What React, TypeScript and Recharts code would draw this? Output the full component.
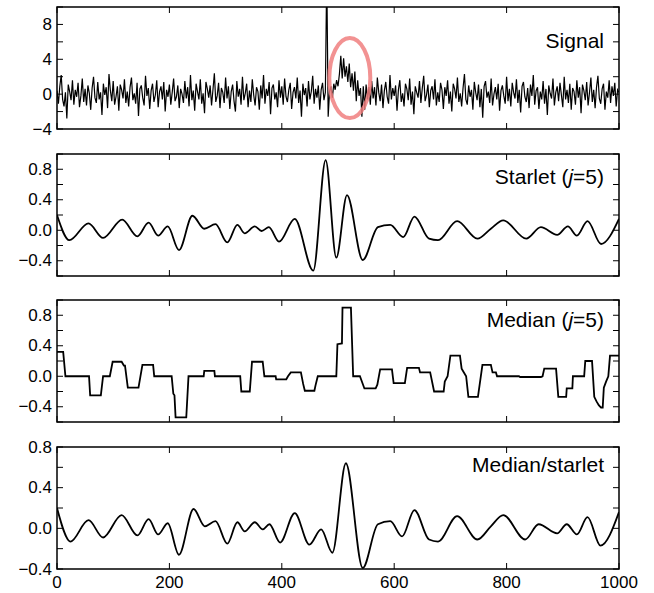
import React from 'react'
import { LineChart, Line, XAxis, YAxis, ReferenceArea, ReferenceDot } from 'recharts'

// raw signal, one sample every 2.5 units of x (0..1000)
const sigStep = 2.5
const sigValues = [
  0.4, -1.1, 0.9, 2.2, -0.6, -1.4, 0.2, -2.8, 1.1, 0.3, -0.7, 1.6, -1.2, 0.5, -0.3, 1.3,
  -1.5, -0.2, 1.8, -0.9, 0.6, -1.3, 1.0, 0.1, -1.8, 0.7, 2.0, -0.4, -1.0, 1.4, -0.6, 0.2,
  -2.4, 1.2, -0.1, 0.8, -1.6, 2.3, 0.4, -0.8, 1.5, -1.2, -0.3, 0.9, -1.9, 1.1, 0.5, -0.5,
  1.7, -1.0, 0.3, -1.4, 0.8, 1.9, -0.7, 0.1, -1.1, 1.3, -2.5, 0.6, 1.0, -0.4, -1.3, 2.1,
  -0.2, 0.7, -1.7, 0.4, 1.2, -0.9, -0.1, 1.6, -1.5, 0.3, 0.9, -0.6, 1.4, -2.0, 0.5, -0.3,
  1.1, -1.2, 0.2, 1.8, -0.8, -0.3, 1.0, -1.6, 0.6, 0.0, -1.0, 1.5, -0.5, 0.8, -1.4, 2.2,
  -0.7, 0.4, -1.9, 1.2, 0.3, -0.6, 1.7, -1.1, 0.1, -2.2, 1.4, 0.6, -0.4, 1.0, -1.3, 0.5,
  2.4, -0.9, -0.2, 1.3, -1.6, 0.7, 0.2, -1.0, 1.9, -0.5, 0.9, -1.7, 0.3, 1.1, -0.8, -2.0,
  1.5, -0.3, 0.6, -1.2, 2.0, -0.7, 0.1, 1.2, -1.5, 0.4, -0.9, 1.7, -0.1, -1.3, 0.8, 0.3,
  -1.8, 1.0, -0.5, 2.2, -1.1, 0.6, -0.2, 1.4, -2.3, 0.7, 1.1, -0.6, 0.2, -1.5, 1.6, -0.4,
  0.9, -1.2, 1.8, -0.3, -0.9, 0.5, 1.3, -1.7, 0.2, 0.8, -0.5, 1.9, -1.0, 0.4, -2.6, 1.2,
  -0.1, 0.7, -1.4, 1.5, -0.6, 0.3, 2.1, -1.1, 0.6, -0.4, 1.0, -1.8, 0.5, 1.3, -0.7, 0.2,
  14,
  -2.6, 0.3, 0.9, -0.4, 1.2, 0.5, 1.6, 0.9, 2.3, 4.4, 1.8, 4.1, 2.0, 3.2, 1.4, 3.5,
  0.8, 2.4, 0.4, 2.6, -0.8, 1.6, -0.2, 0.7, -2.6, 0.9, -1.8, 1.1, -0.6, 0.8, -1.2, 1.5,
  -0.5, 0.8, -1.3, 1.9, 0.2, -0.8, 1.1, -1.6, 0.4, 1.4, -0.3, -1.1, 2.2, -0.6, 0.7, -0.2,
  1.0, -1.9, 0.5, 1.6, -0.9, 0.1, -1.4, 1.2, 0.6, -0.7, 1.8, -1.2, 0.3, -2.3, 0.9, 0.2,
  -0.4, 1.5, -1.0, 0.7, 2.1, -0.8, -0.1, 1.1, -1.5, 0.4, 0.9, -0.6, 1.7, -1.3, 0.2, -0.9,
  1.3, 0.5, -1.7, 0.8, -0.2, 1.6, -1.1, 0.3, -2.0, 1.2, 0.6, -0.5, 1.9, -0.9, 0.1, -1.4,
  0.7, 2.3, -0.6, -1.2, 1.0, -0.3, 0.5, -1.8, 1.4, 0.2, -0.7, 1.1, -1.5, 0.6, -2.7, 0.9,
  1.5, -0.4, 0.3, -1.0, 1.8, -1.3, 0.0, 0.8, -0.6, 1.2, -1.9, 0.4, 1.0, -0.2, -1.1, 2.0,
  -0.8, 0.6, -1.4, 1.3, 0.2, -0.5, 1.7, -1.0, 0.5, -2.1, 0.9, 1.4, -0.3, -0.9, 0.7, -1.6,
  1.1, -0.2, 2.2, -1.2, 0.4, 0.8, -1.7, 0.3, -0.6, 1.5, -1.1, 0.6, -2.4, 1.0, 0.1, -0.5,
  1.8, -1.3, 0.2, 0.9, -0.8, 1.3, -0.1, -1.5, 2.0, -0.6, 0.5, -1.0, 1.2, -1.8, 0.7, 0.3,
  -1.2, 1.6, -0.4, 0.8, -2.2, 1.1, 0.4, -0.7, 1.4, -1.3, 0.2, 1.9, -0.9, 0.5, -1.6, 0.8,
  2.1, -0.5, -1.1, 0.6, 1.2, -1.8, 0.3, -0.4, 1.6, -1.0, 0.9, -0.2, 1.3, -1.4, 0.5, 0.2,
]

// starlet (j=5) extrema
const starletX = [0, 22, 56, 82, 116, 143, 163, 180, 197, 217, 241, 262, 282, 303, 321, 334, 352, 364, 377, 395, 423, 456, 478, 497, 516, 544, 571, 593, 616, 636, 662, 678, 712, 748, 772, 794, 835, 861, 890, 909, 925, 944, 968, 1000]
const starletY = [0.2, -0.13, 0.09, -0.1, 0.14, -0.08, 0.1, -0.07, 0.05, -0.26, 0.19, 0.02, 0.08, -0.16, 0.07, -0.04, 0.05, -0.01, 0.04, -0.15, 0.15, -0.53, 0.92, -0.36, 0.46, -0.39, 0.04, 0.07, -0.09, 0.18, -0.11, -0.13, 0.12, -0.11, 0.02, 0.13, -0.11, 0.04, -0.06, 0.05, -0.07, 0.12, -0.18, 0.15]

// median (j=5) step corners
const medianX = [0, 11, 15, 57, 59, 78, 82, 94, 99, 115, 119, 121, 126, 145, 152, 171, 173, 204, 207, 209, 211, 230, 234, 261, 262, 280, 281, 326, 328, 343, 347, 366, 369, 389, 390, 408, 411, 416, 434, 438, 441, 458, 460, 464, 497, 499, 507, 508, 523, 527, 539, 547, 567, 570, 575, 596, 599, 619, 623, 644, 646, 664, 671, 688, 690, 695, 700, 717, 720, 724, 728, 732, 749, 757, 772, 775, 781, 783, 822, 824, 861, 864, 867, 888, 892, 906, 907, 917, 918, 938, 940, 952, 956, 960, 964, 968, 971, 973, 977, 981, 984, 1000]
const medianY = [0.32, 0.32, 0, 0, -0.25, -0.25, 0, 0, 0.19, 0.19, 0.14, 0.14, -0.15, -0.15, 0.15, 0.15, 0, 0, -0.23, -0.25, -0.54, -0.54, 0, 0, 0.07, 0.07, 0, 0, -0.2, -0.2, 0.19, 0.19, 0, 0, -0.04, -0.04, 0, 0.05, 0.05, -0.1, -0.19, -0.19, -0.12, 0, 0, 0.42, 0.43, 0.9, 0.9, 0, 0, -0.16, -0.16, -0.11, 0.09, 0.09, -0.09, -0.09, 0.11, 0.11, 0.05, 0.05, -0.2, -0.2, -0.07, 0, 0.27, 0.27, 0.1, 0.05, 0, -0.27, -0.27, 0.15, 0.15, 0.05, 0.05, 0, 0, -0.01, -0.01, 0, 0.1, 0.1, -0.27, -0.27, -0.16, -0.16, 0, 0, 0.2, 0.2, -0.27, -0.33, -0.38, -0.41, -0.41, -0.15, -0.07, 0, 0.27, 0.27]

// median/starlet extrema
const msX = [0, 24, 56, 82, 115, 143, 163, 180, 197, 217, 243, 263, 282, 303, 321, 334, 352, 366, 378, 397, 423, 449, 470, 490, 514, 544, 571, 593, 614, 636, 662, 678, 712, 748, 772, 794, 833, 857, 890, 907, 925, 944, 967, 1000]
const msY = [0.2, -0.13, 0.08, -0.09, 0.13, -0.07, 0.09, -0.06, 0.05, -0.26, 0.19, 0.02, 0.07, -0.15, 0.06, -0.03, 0.06, -0.01, 0.04, -0.14, 0.15, -0.16, -0.01, -0.24, 0.64, -0.39, 0.04, 0.07, -0.08, 0.18, -0.11, -0.13, 0.12, -0.11, 0.02, 0.13, -0.11, 0.04, -0.05, 0.04, -0.06, 0.11, -0.17, 0.16]

const xTicks = [0, 200, 400, 600, 800, 1000]
const sigTicks = [-4, -2, 0, 2, 4, 6, 8, 10]
const sigLabels = [-4, 0, 4, 8]
const waveTicks = [-0.6, -0.4, -0.2, 0, 0.2, 0.4, 0.6, 0.8, 1.0]
const msTicks = [-0.4, -0.2, 0, 0.2, 0.4, 0.6, 0.8]
const waveLabels = [-0.4, 0, 0.4, 0.8]

// layout (px)
const W = 654
const PL = 57
const PR = 619
const PH = 122
const MT = 10
const TL = 6
const FONT = '"Liberation Sans", Arial, Helvetica, sans-serif'

const sigData = sigValues.map((v, i) => ({ x: i * sigStep, y: v }))
const starletData = starletX.map((x, i) => ({ x, y: starletY[i] }))
const medianData = medianX.map((x, i) => ({ x, y: medianY[i] }))
const msData = msX.map((x, i) => ({ x, y: msY[i] }))

const fmt = (v: number, digits: number) => {
  const s = Math.abs(v).toFixed(digits)
  return v < -1e-9 ? '\u2212' + s : s
}

function Panel({ top, data, domain, ticks, labels, digits, showX, type, strokeWidth, children }: any) {
  const bottom = showX ? 30 : 12
  const yTick = (p: any) => {
    const v = p.payload.value
    const y = p.y
    const show = labels.some((l: number) => Math.abs(l - v) < 1e-6)
    return (
      <g>
        <line x1={PL} x2={PL + TL} y1={y} y2={y} stroke="#000" strokeWidth={1} />
        <line x1={PR - TL} x2={PR} y1={y} y2={y} stroke="#000" strokeWidth={1} />
        {show && (
          <text x={PL - 5} y={y} textAnchor="end" dominantBaseline="central" fontSize={17} fontFamily={FONT} fill="#000">
            {fmt(v, digits)}
          </text>
        )}
      </g>
    )
  }
  const xTick = (p: any) => {
    const x = p.x
    return (
      <g>
        <line x1={x} x2={x} y1={MT} y2={MT + TL} stroke="#000" strokeWidth={1} />
        <line x1={x} x2={x} y1={MT + PH - TL} y2={MT + PH} stroke="#000" strokeWidth={1} />
        {showX && (
          <text x={x} y={MT + PH + 13} textAnchor="middle" dominantBaseline="central" fontSize={17} fontFamily={FONT} fill="#000">
            {p.payload.value}
          </text>
        )}
      </g>
    )
  }
  return (
    <div style={{ position: 'absolute', left: 0, top: top - MT }}>
      <LineChart width={W} height={MT + PH + bottom} data={data} margin={{ top: MT, right: W - PR, bottom: 0, left: 0 }}>
        <XAxis type="number" dataKey="x" domain={[0, 1000]} ticks={xTicks} interval={0} allowDataOverflow height={bottom} axisLine={false} tickLine={false} tick={xTick} />
        <YAxis type="number" domain={domain} ticks={ticks} interval={0} allowDataOverflow width={PL} axisLine={false} tickLine={false} tick={yTick} />
        <Line type={type} dataKey="y" stroke="#000" strokeWidth={strokeWidth} dot={false} isAnimationActive={false} />
        {children}
        <ReferenceArea x1={0} x2={1000} y1={domain[0]} y2={domain[1]} fill="none" fillOpacity={0} stroke="#000" strokeWidth={1.5} />
      </LineChart>
    </div>
  )
}

const titleStyle = (top: number): React.CSSProperties => ({
  position: 'absolute',
  right: W - 604,
  top,
  fontFamily: FONT,
  fontSize: 21,
  lineHeight: '21px',
  color: '#000',
  whiteSpace: 'nowrap',
})

export default function App() {
  return (
    <div style={{ position: 'relative', width: W, height: 593, background: '#fff', overflow: 'hidden' }}>
      <style>{'body{margin:0}'}</style>
      <Panel top={7} data={sigData} domain={[-4, 10]} ticks={sigTicks} labels={sigLabels} digits={0} type="linear" strokeWidth={1.2}>
        <ReferenceDot
          x={521}
          y={1.85}
          r={1}
          shape={(p: any) => (
            <ellipse cx={p.cx} cy={p.cy} rx={20.5} ry={40} fill="none" stroke="#f07f7f" strokeOpacity={0.85} strokeWidth={4} />
          )}
        />
      </Panel>
      <Panel top={154} data={starletData} domain={[-0.6, 1.0]} ticks={waveTicks} labels={waveLabels} digits={1} type="monotone" strokeWidth={1.8} />
      <Panel top={300} data={medianData} domain={[-0.6, 1.0]} ticks={waveTicks} labels={waveLabels} digits={1} type="linear" strokeWidth={1.8} />
      <Panel top={447} data={msData} domain={[-0.4, 0.8]} ticks={msTicks} labels={waveLabels} digits={1} showX type="monotone" strokeWidth={1.8} />
      <div style={titleStyle(30)}>Signal</div>
      <div style={titleStyle(166)}>Starlet (<i>j</i>=5)</div>
      <div style={titleStyle(309)}>Median (<i>j</i>=5)</div>
      <div style={titleStyle(454)}>Median/starlet</div>
    </div>
  )
}
